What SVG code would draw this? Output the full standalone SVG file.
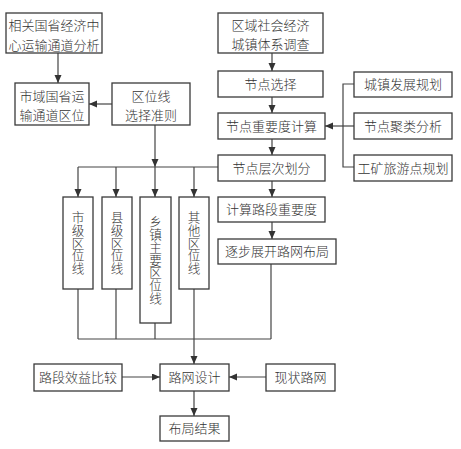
<svg xmlns="http://www.w3.org/2000/svg" width="461" height="449" viewBox="0 0 461 449">
<defs>
<marker id="arr" markerUnits="userSpaceOnUse" markerWidth="9" markerHeight="8" refX="8" refY="3.5" orient="auto">
<path d="M0,0 L8,3.5 L0,7 z" fill="#333"/>
</marker>
<style>
rect{fill:#fff;stroke:#3a3a3a;stroke-width:1.3}
text{font-family:"Noto Sans CJK SC","Noto Sans",sans-serif;font-size:13px;fill:#333;text-anchor:middle;font-weight:300}
text.v{writing-mode:vertical-rl;font-size:12.6px;letter-spacing:0.2px}
.c line,.c polyline{stroke:#444;stroke-width:1.2;fill:none}
.a{marker-end:url(#arr)}
</style>
</defs>
<rect width="461" height="449" fill="#fff" style="stroke:none"/>
<g class="c" id="connectors">
<line class="a" x1="58" y1="53" x2="58" y2="83"/>
<line class="a" x1="112" y1="104" x2="89" y2="104"/>
<line class="a" x1="272" y1="53" x2="272" y2="71"/>
<line class="a" x1="272" y1="97" x2="272" y2="113"/>
<line class="a" x1="354" y1="126" x2="325" y2="126"/>
<polyline points="354,84 343,84 343,167 354,167"/>
<line class="a" x1="272" y1="139" x2="272" y2="155"/>
<line class="a" x1="155" y1="125" x2="155" y2="167"/>
<line x1="78" y1="167" x2="218" y2="167"/>
<line class="a" x1="78" y1="167" x2="78" y2="197"/>
<line class="a" x1="116" y1="167" x2="116" y2="197"/>
<line class="a" x1="155" y1="167" x2="155" y2="197"/>
<line class="a" x1="194" y1="167" x2="194" y2="197"/>
<line class="a" x1="272" y1="181" x2="272" y2="197"/>
<line class="a" x1="272" y1="222" x2="272" y2="239"/>
<line x1="78" y1="289" x2="78" y2="339"/>
<line x1="116" y1="289" x2="116" y2="339"/>
<line x1="155" y1="323" x2="155" y2="339"/>
<line x1="194" y1="289" x2="194" y2="339"/>
<line x1="271" y1="264" x2="271" y2="339"/>
<line x1="78" y1="339" x2="271" y2="339"/>
<line class="a" x1="194" y1="339" x2="194" y2="364"/>
<line class="a" x1="122" y1="377" x2="160" y2="377"/>
<line class="a" x1="266" y1="377" x2="229" y2="377"/>
<line class="a" x1="194" y1="391" x2="194" y2="416"/>
</g>
<g id="n1"><rect x="6" y="13" width="96" height="40"/><text x="54" y="30">相关国省经济中</text><text x="54" y="50">心运输通道分析</text></g>
<g id="n2"><rect x="15" y="83" width="74" height="42"/><text x="52" y="101">市域国省运</text><text x="52" y="120">输通道区位</text></g>
<g id="n3"><rect x="112" y="83" width="78" height="42"/><text x="151" y="101">区位线</text><text x="151" y="120">选择准则</text></g>
<g id="n4"><rect x="218" y="13" width="105" height="40"/><text x="270.5" y="30">区域社会经济</text><text x="270.5" y="49">城镇体系调查</text></g>
<g id="n5"><rect x="218" y="71" width="105" height="26"/><text x="270.5" y="88.5">节点选择</text></g>
<g id="n6"><rect x="218" y="113" width="107" height="26"/><text x="271.5" y="130.5">节点重要度计算</text></g>
<g id="n7"><rect x="354" y="72" width="98" height="25"/><text x="403" y="89">城镇发展规划</text></g>
<g id="n8"><rect x="354" y="113" width="98" height="26"/><text x="403" y="130.5">节点聚类分析</text></g>
<g id="n9"><rect x="218" y="155" width="107" height="26"/><text x="271.5" y="172.5">节点层次划分</text></g>
<g id="n10"><rect x="354" y="155" width="98" height="26"/><text x="403" y="172.5">工矿旅游点规划</text></g>
<g id="n11"><rect x="218" y="197" width="107" height="25"/><text x="271.5" y="214">计算路段重要度</text></g>
<g id="n12"><rect x="218" y="239" width="118" height="25"/><text x="277" y="256">逐步展开路网布局</text></g>
<g id="n13"><rect x="63" y="197" width="30" height="92"/><text class="v" x="78" y="243">市级区位线</text></g>
<g id="n14"><rect x="102" y="197" width="30" height="92"/><text class="v" x="117" y="243">县级区位线</text></g>
<g id="n15"><rect x="140" y="197" width="31" height="126"/><text class="v" x="155.5" y="260">乡镇主要区位线</text></g>
<g id="n16"><rect x="179" y="197" width="30" height="92"/><text class="v" x="194" y="243">其他区位线</text></g>
<g id="n17"><rect x="34" y="364" width="88" height="27"/><text x="78" y="382">路段效益比较</text></g>
<g id="n18"><rect x="160" y="364" width="69" height="27"/><text x="194.5" y="382">路网设计</text></g>
<g id="n19"><rect x="266" y="364" width="69" height="27"/><text x="300.5" y="382">现状路网</text></g>
<g id="n20"><rect x="160" y="416" width="69" height="25"/><text x="194.5" y="433">布局结果</text></g>
</svg>
